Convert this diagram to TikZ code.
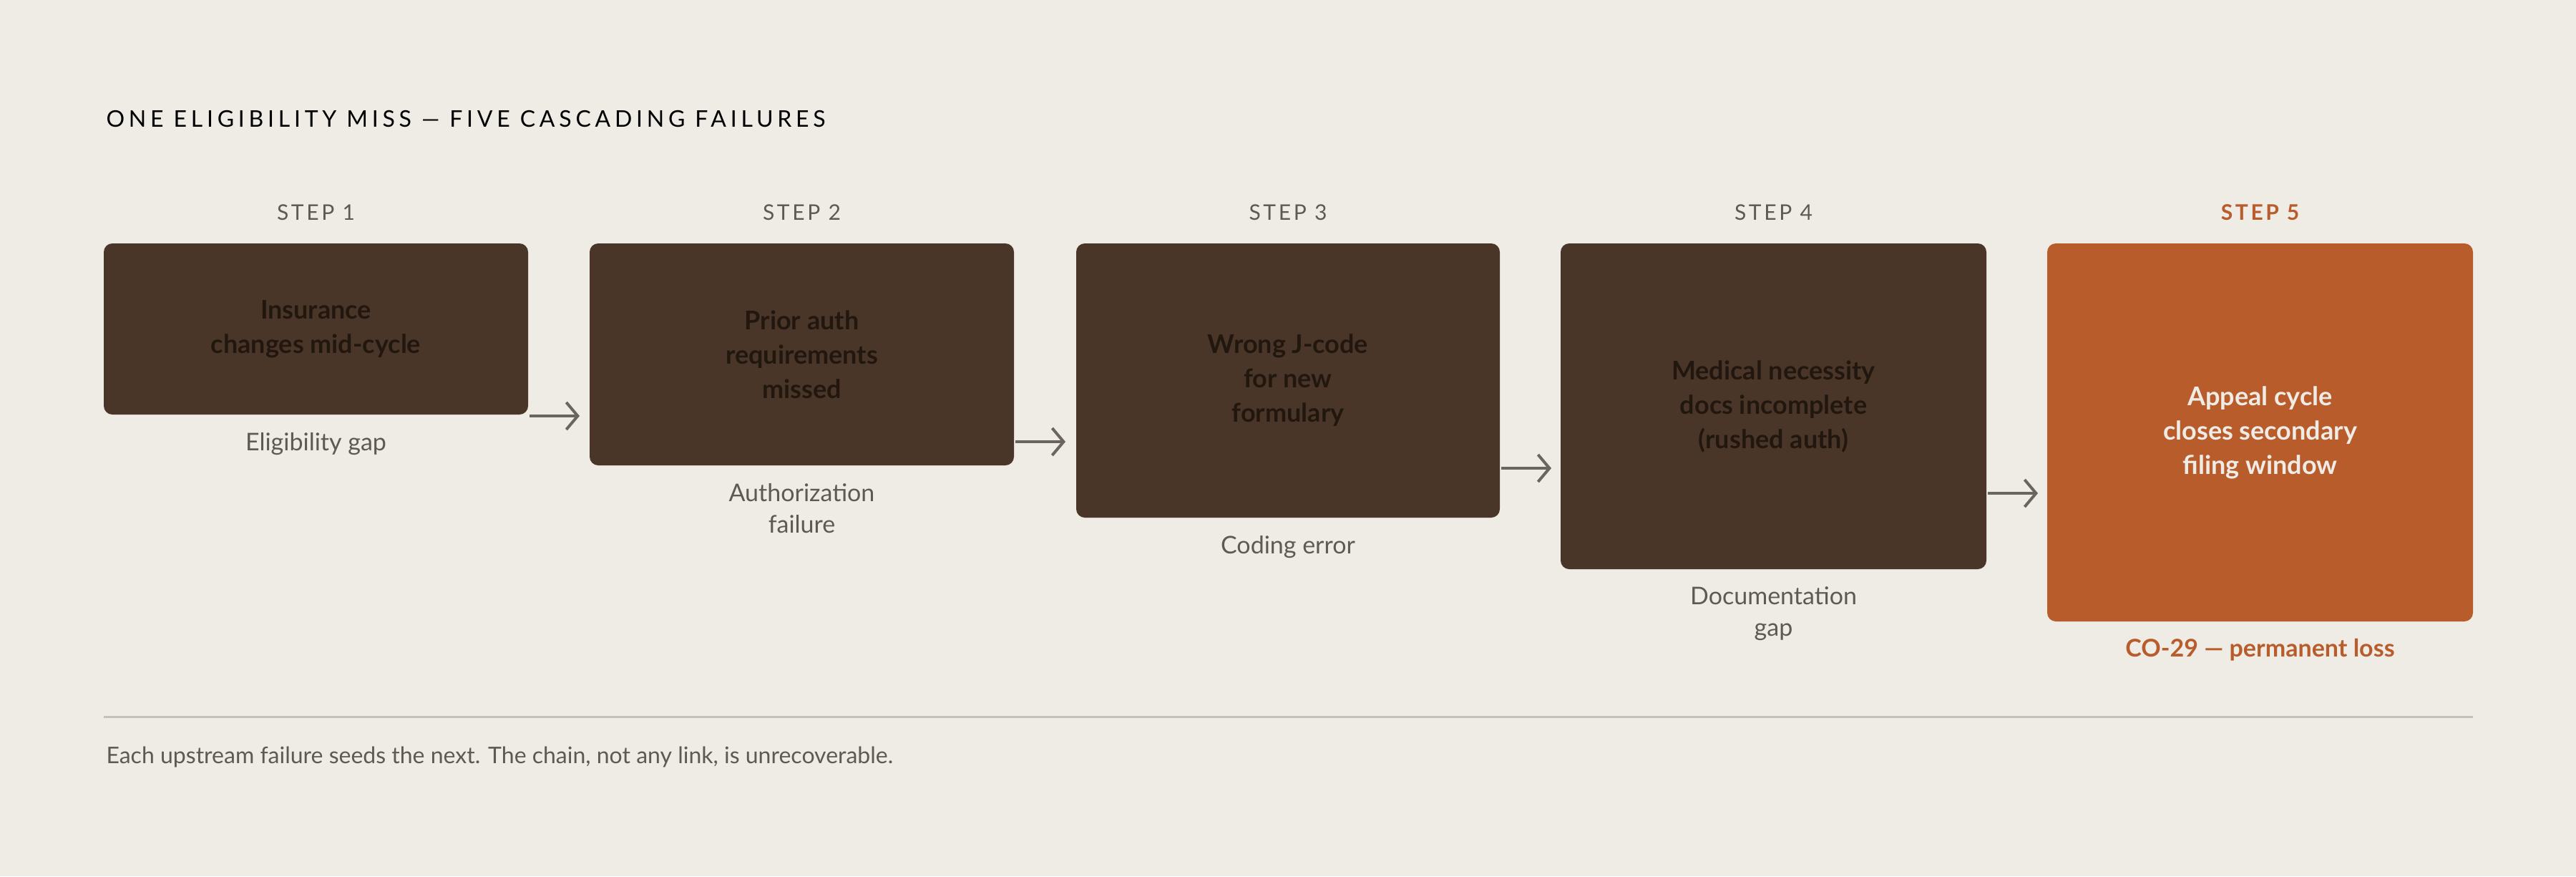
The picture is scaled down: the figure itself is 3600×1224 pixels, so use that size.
\documentclass[tikz,border=0pt]{standalone}
\usepackage{fontspec}
\setmainfont{Lato}
\usetikzlibrary{arrows.meta}
\definecolor{bg}{HTML}{EFECE6}
\definecolor{boxc}{HTML}{4A3629}
\definecolor{orng}{HTML}{B85C2C}
\definecolor{dtxt}{HTML}{21170F}
\definecolor{gry}{HTML}{5E5954}
\definecolor{arr}{HTML}{6B6560}
\definecolor{rulec}{HTML}{C4C0BA}
\begin{document}
\begin{tikzpicture}[x=1pt,y=-1pt,
  stepbox/.style={rounded corners=12pt,fill=boxc},
  btxt/.style={font=\fontsize{36}{48}\selectfont\bfseries,text=dtxt,align=center},
  steplbl/.style={font=\fontsize{30}{36}\selectfont\addfontfeature{LetterSpace=12},text=gry,anchor=base},
  captxt/.style={font=\fontsize{34}{44}\selectfont,text=gry,align=center,anchor=north},
  conn/.style={draw=arr,line width=4pt,-{Straight Barb[length=16pt,width=38pt,line width=4pt]}}]
\fill[bg] (0,0) rectangle (3600,1224);
\useasboundingbox (0,0) rectangle (3600,1224);
\node[anchor=base west,font=\fontsize{32}{38}\selectfont\addfontfeature{LetterSpace=18},text=black] (title) at (145,177) {ONE ELIGIBILITY MISS — FIVE CASCADING FAILURES};
% boxes
\fill[stepbox] (145,340) rectangle (738,579); \coordinate (b1) at (441.5,459.5);
\fill[stepbox] (824,340) rectangle (1417,650); \coordinate (b2) at (1120.5,495);
\fill[stepbox] (1504,340) rectangle (2096,723); \coordinate (b3) at (1800,531.5);
\fill[stepbox] (2181,340) rectangle (2776,795); \coordinate (b4) at (2478.5,567.5);
\fill[stepbox,fill=orng] (2861,340) rectangle (3456,868); \coordinate (b5) at (3158.5,604);
\node[btxt] (t1) at (b1) {Insurance\\changes mid-cycle};
\node[btxt] (t2) at (b2) {Prior auth\\requirements\\missed};
\node[btxt] (t3) at (b3) {Wrong J-code\\for new\\formulary};
\node[btxt] (t4) at (b4) {Medical necessity\\docs incomplete\\(rushed auth)};
\node[btxt,text=bg] (t5) at (b5) {Appeal cycle\\closes secondary\\filing window};
% steps
\node[steplbl] (s1) at (441.5,307) {STEP 1};
\node[steplbl] (s2) at (1120.5,307) {STEP 2};
\node[steplbl] (s3) at (1800,307) {STEP 3};
\node[steplbl] (s4) at (2478.5,307) {STEP 4};
\node[steplbl,text=orng,font=\fontsize{30}{36}\selectfont\bfseries\addfontfeature{LetterSpace=12}] (s5) at (3158.5,307) {STEP 5};
% captions
\node[captxt] (c1) at (441.5,601) {Eligibility gap};
\node[captxt] (c2) at (1120.5,672) {Authorization\\failure};
\node[captxt] (c3) at (1800,745) {Coding error};
\node[captxt] (c4) at (2478.5,816) {Documentation\\gap};
\node[captxt,text=orng,font=\fontsize{34}{44}\selectfont\bfseries] (c5) at (3158.5,889) {CO-29 — permanent loss};
% arrows
\coordinate (a1s) at (740,581); \coordinate (a1e) at (810,581);
\coordinate (a2s) at (1419,617); \coordinate (a2e) at (1489,617);
\coordinate (a3s) at (2098,654); \coordinate (a3e) at (2168,654);
\coordinate (a4s) at (2778,689); \coordinate (a4e) at (2848,689);
\draw[conn] (a1s) -- (a1e);
\draw[conn] (a2s) -- (a2e);
\draw[conn] (a3s) -- (a3e);
\draw[conn] (a4s) -- (a4e);
% rule + footer
\coordinate (r1) at (145,1001); \coordinate (r2) at (3456,1001);
\draw[rulec,line width=3pt] (r1) -- (r2);
\node[anchor=base west,font=\fontsize{32}{38}\selectfont,text=gry] (foot) at (145,1066) {Each upstream failure seeds the next. The chain, not any link, is unrecoverable.};
\end{tikzpicture}
\end{document}
